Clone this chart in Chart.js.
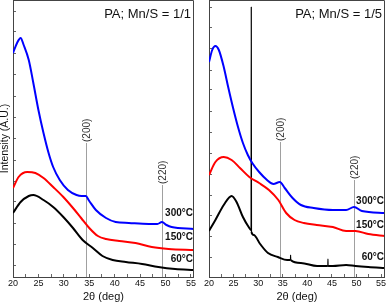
<!DOCTYPE html>
<html lang="en">
<head>
<meta charset="utf-8"/>
<title>XRD patterns PA, Mn/S = 1/1 and 1/5</title>
<script src="https://cdn.jsdelivr.net/npm/chart.js@4.4.0/dist/chart.umd.min.js"></script>
<style>
  body { margin: 0; background: #fff; }
  #wrap { position: relative; width: 390px; height: 304px; }
  canvas { position: absolute; top: 0; }
  #leftChart { left: 0; }
  #rightChart { left: 200px; }
</style>
</head>
<body>
<div id="wrap">
<canvas id="leftChart" width="200" height="304"></canvas>
<canvas id="rightChart" width="190" height="304"></canvas>
</div>
<script>
// x axis ticks (2theta, deg)
const xTickValues = [20, 22.5, 25, 27.5, 30, 32.5, 35, 37.5, 40, 42.5, 45, 47.5, 50, 52.5, 55];
const xTickLabels = ['20', '', '25', '', '30', '', '35', '', '40', '', '45', '', '50', '', '55'];

// y ticks (no labels, arbitrary units)
const leftYTicks = [12, 33, 54, 75, 96, 117, 139, 160, 181, 202, 224, 245, 266];
const rightYTicks = [20, 41, 62, 82, 103, 124, 145, 166, 187, 207, 228, 249, 270];

// reflections
const refLabels = ['(200)', '(220)'];
const leftRefDeg = [34.3, 49.3];
const rightRefDeg = [34.5, 49.5];
const leftRefTop = [134, 92];
const rightRefTop = [135, 97];

const tempLabels = ['300°C', '150°C', '60°C'];

// ---- PA; Mn/S = 1/1 ----
const l300Deg = [20.0, 20.8, 21.5, 22.1, 23.1, 24.0, 25.0, 26.0, 27.0, 27.9, 29.2, 30.8, 32.5, 33.5, 34.3, 35.0, 36.3, 38.3, 40.2, 42.8, 46.7, 48.4, 49.3, 50.2, 51.2, 55.6];
const l300Int = [224, 234, 239, 232, 217, 194, 167, 144, 124, 110, 97, 87, 82, 81, 81, 76, 67, 59, 55, 54, 53, 53, 55, 52, 50, 48];

const l150Deg = [20.0, 21.1, 22.8, 24.4, 26.0, 27.9, 29.9, 31.8, 33.4, 35.0, 36.7, 38.3, 40.9, 44.1, 47.3, 50.6, 55.6];
const l150Int = [89, 100, 105, 104, 99, 90, 80, 69, 59, 49, 41, 38, 36, 34, 30, 28, 27];

const l60Deg = [20.0, 21.5, 23.1, 24.0, 26.0, 27.9, 29.9, 31.8, 33.7, 35.7, 37.6, 39.6, 42.2, 45.4, 48.6, 51.9, 55.6];
const l60Int = [64, 75, 81, 82, 77, 70, 60, 49, 37, 29, 21, 17, 15, 13, 10, 8, 7];

// ---- PA; Mn/S = 1/5 ----
const r300Deg = [20.0, 20.65, 21.3, 22.0, 23.0, 23.9, 24.9, 25.9, 26.9, 27.9, 28.8, 30.2, 31.8, 33.1, 34.4, 35.4, 37.0, 38.7, 41.3, 45.2, 47.9, 49.5, 51.1, 55.9];
const r300Int = [215, 227, 231, 227, 210, 190, 169, 150, 134, 122, 114, 105, 97, 93, 95, 89, 79, 72, 69, 67, 67, 70, 66, 64];

const r150Deg = [20.0, 21.3, 23.0, 24.6, 26.3, 28.2, 30.2, 32.2, 34.1, 35.7, 37.4, 39.3, 41.9, 45.2, 47.9, 49.8, 52.4, 55.9];
const r150Int = [102, 115, 120, 117, 109, 100, 94, 87, 77, 64, 57, 54, 52, 50, 46, 46, 43, 41];

const r60Deg = [20.0, 21.3, 23.0, 24.6, 25.6, 26.9, 28.2, 28.56, 28.6, 28.64, 29.1, 30.4, 32.0, 34.0, 35.9, 36.58, 36.6, 36.62, 38.7, 42.0, 44.18, 44.2, 44.22, 45.2, 47.9, 49.8, 52.4, 55.9];
const r60Int = [46, 57, 72, 81, 75, 60, 49, 47, 270, 45, 42, 33, 24, 20, 17, 17, 22, 17, 14, 11, 11, 18, 11, 11, 12, 11, 10, 9];

const seriesColors = ['#0000ff', '#ff0000', '#000000'];

function pts(xs, ys) {
  return xs.map((v, i) => ({ x: v, y: ys[i] }));
}

// narrow spikes are drawn thinner, like the single-step reflections in the scan
function segWidth(c) {
  return Math.abs(c.p1.parsed.x - c.p0.parsed.x) < 0.1 ? 1.2 : undefined;
}

const panelDecor = {
  id: 'panelDecor',
  beforeDatasetsDraw(chart, args, opts) {
    const { ctx, chartArea: a, scales: { x, y } } = chart;
    ctx.save();
    opts.refDeg.forEach((d, i) => {
      const px = Math.round(x.getPixelForValue(d)) + 0.5;
      const top = y.getPixelForValue(opts.refTop[i]);
      ctx.strokeStyle = '#a0a0a0';
      ctx.lineWidth = 1;
      ctx.beginPath();
      ctx.moveTo(px, a.bottom);
      ctx.lineTo(px, top);
      ctx.stroke();
      ctx.save();
      ctx.translate(px + 1, top - 1);
      ctx.rotate(-Math.PI / 2);
      ctx.font = '10px "Liberation Sans", Arial, sans-serif';
      ctx.fillStyle = '#333';
      ctx.textAlign = 'left';
      ctx.textBaseline = 'middle';
      ctx.fillText(refLabels[i], 0, 0);
      ctx.restore();
    });
    ctx.restore();
  },
  afterDraw(chart, args, opts) {
    const { ctx, chartArea: a, scales: { y } } = chart;
    ctx.save();
    // frame top and right
    ctx.strokeStyle = '#444';
    ctx.lineWidth = 1;
    ctx.beginPath();
    ctx.moveTo(Math.round(a.left) + 0.5, 0.5);
    ctx.lineTo(Math.round(a.right) - 0.5, 0.5);
    ctx.lineTo(Math.round(a.right) - 0.5, a.bottom);
    ctx.stroke();
    // title
    ctx.font = '13px "Liberation Sans", Arial, sans-serif';
    ctx.fillStyle = '#111';
    ctx.textAlign = 'right';
    ctx.textBaseline = 'middle';
    ctx.fillText(opts.title, a.right - 3, 14);
    // temperatures
    ctx.font = 'bold 10px "Liberation Sans", Arial, sans-serif';
    tempLabels.forEach((t, i) => {
      ctx.fillText(t, a.right - 1, y.getPixelForValue(opts.tempAt[i]));
    });
    ctx.restore();
  }
};

function makeChart(id, sets, cfg) {
  return new Chart(document.getElementById(id), {
    type: 'line',
    data: {
      datasets: sets.map((s, i) => ({
        data: s,
        borderColor: seriesColors[i],
        borderWidth: 2,
        borderJoinStyle: 'bevel',
        pointRadius: 0,
        cubicInterpolationMode: 'monotone',
        fill: false,
        segment: { borderWidth: segWidth }
      }))
    },
    options: {
      responsive: false,
      animation: false,
      devicePixelRatio: 1,
      layout: { padding: { top: 0, right: cfg.padRight, left: 0, bottom: 0 } },
      plugins: {
        legend: { display: false },
        tooltip: { enabled: false },
        panelDecor: cfg.decor
      },
      scales: {
        x: {
          type: 'linear',
          min: 20,
          max: cfg.xMax,
          afterBuildTicks: s => { s.ticks = xTickValues.map(v => ({ value: v })); },
          afterFit: s => { s.height = 27; },
          ticks: {
            autoSkip: false,
            maxRotation: 0,
            padding: 4,
            color: '#111',
            font: { family: '"Liberation Sans", Arial, sans-serif', size: 9 },
            callback: (v, i) => xTickLabels[i]
          },
          grid: { drawOnChartArea: false, tickLength: -3, color: '#666' },
          border: { color: '#444' },
          title: {
            display: true,
            text: '2θ (deg)',
            color: '#111',
            padding: 0,
            font: { family: '"Liberation Sans", Arial, sans-serif', size: 11 }
          }
        },
        y: {
          min: 0,
          max: 277,
          afterBuildTicks: s => { s.ticks = cfg.yTicks.map(v => ({ value: v })); },
          afterFit: s => { s.width = cfg.yWidth; },
          ticks: { display: false },
          grid: { drawOnChartArea: false, tickLength: -3, color: '#666' },
          border: { color: '#444' },
          title: {
            display: cfg.yTitle,
            text: 'Intensity (A.U.)',
            color: '#111',
            padding: 0,
            font: { family: '"Liberation Sans", Arial, sans-serif', size: 10.5, lineHeight: 1 }
          }
        }
      }
    },
    plugins: [panelDecor]
  });
}

makeChart('leftChart',
  [pts(l300Deg, l300Int), pts(l150Deg, l150Int), pts(l60Deg, l60Int)],
  {
    xMax: 55.6, padRight: 4, yWidth: 13, yTitle: true, yTicks: leftYTicks,
    decor: { title: 'PA; Mn/S = 1/1', refDeg: leftRefDeg, refTop: leftRefTop, tempAt: [64, 40, 18] }
  });

makeChart('rightChart',
  [pts(r300Deg, r300Int), pts(r150Deg, r150Int), pts(r60Deg, r60Int)],
  {
    xMax: 55.8, padRight: 2, yWidth: 5, yTitle: false, yTicks: rightYTicks,
    decor: { title: 'PA; Mn/S = 1/5', refDeg: rightRefDeg, refTop: rightRefTop, tempAt: [76, 52, 20] }
  });
</script>
</body>
</html>
